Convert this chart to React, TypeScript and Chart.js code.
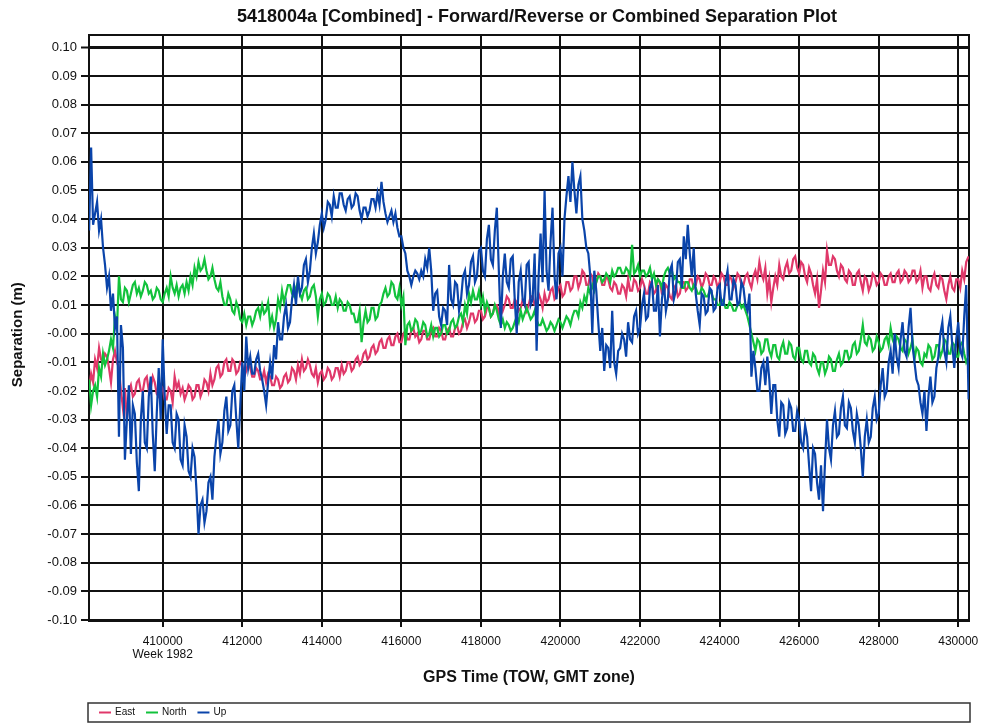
import { useEffect, useRef } from 'react';
import { Chart, registerables } from 'chart.js';

Chart.register(...registerables);

const TITLE = '5418004a [Combined] - Forward/Reverse or Combined Separation Plot';
const X_TITLE = 'GPS Time (TOW, GMT zone)';
const Y_TITLE = 'Separation (m)';
const WEEK_LABEL = 'Week 1982';
const WEEK_TICK = 410000;
const SERIES_NAMES = ['East', 'North', 'Up'];
const SERIES_COLORS = ['#e0386a', '#12c23c', '#0a44aa'];

const X_MIN = 408147;
const X_MAX = 430270;
const Y_MIN = -0.1;
const Y_MAX = 0.1043;
const X_TICKS = [410000, 412000, 414000, 416000, 418000, 420000, 422000, 424000, 426000, 428000, 430000];
const Y_TICKS = [
  -0.1, -0.09, -0.08, -0.07, -0.06, -0.05, -0.04, -0.03, -0.02, -0.01, 0,
  0.01, 0.02, 0.03, 0.04, 0.05, 0.06, 0.07, 0.08, 0.09, 0.1,
];

// GPS time of week (s)
const TIMES = [
  408150,
  408200, 408250, 408300, 408350, 408400, 408450, 408500, 408550, 408600, 408650, 408700, 408750, 408800, 408850, 408900, 408950, 409000, 409050, 409100, 409150,
  409200, 409250, 409300, 409350, 409400, 409450, 409500, 409550, 409600, 409650, 409700, 409750, 409800, 409850, 409900, 409950, 410000, 410050, 410100, 410150,
  410200, 410250, 410300, 410350, 410400, 410450, 410500, 410550, 410600, 410650, 410700, 410750, 410800, 410850, 410900, 410950, 411000, 411050, 411100, 411150,
  411200, 411250, 411300, 411350, 411400, 411450, 411500, 411550, 411600, 411650, 411700, 411750, 411800, 411850, 411900, 411950, 412000, 412050, 412100, 412150,
  412200, 412250, 412300, 412350, 412400, 412450, 412500, 412550, 412600, 412650, 412700, 412750, 412800, 412850, 412900, 412950, 413000, 413050, 413100, 413150,
  413200, 413250, 413300, 413350, 413400, 413450, 413500, 413550, 413600, 413650, 413700, 413750, 413800, 413850, 413900, 413950, 414000, 414050, 414100, 414150,
  414200, 414250, 414300, 414350, 414400, 414450, 414500, 414550, 414600, 414650, 414700, 414750, 414800, 414850, 414900, 414950, 415000, 415050, 415100, 415150,
  415200, 415250, 415300, 415350, 415400, 415450, 415500, 415550, 415600, 415650, 415700, 415750, 415800, 415850, 415900, 415950, 416000, 416050, 416100, 416150,
  416200, 416250, 416300, 416350, 416400, 416450, 416500, 416550, 416600, 416650, 416700, 416750, 416800, 416850, 416900, 416950, 417000, 417050, 417100, 417150,
  417200, 417250, 417300, 417350, 417400, 417450, 417500, 417550, 417600, 417650, 417700, 417750, 417800, 417850, 417900, 417950, 418000, 418050, 418100, 418150,
  418200, 418250, 418300, 418350, 418400, 418450, 418500, 418550, 418600, 418650, 418700, 418750, 418800, 418850, 418900, 418950, 419000, 419050, 419100, 419150,
  419200, 419250, 419300, 419350, 419400, 419450, 419500, 419550, 419600, 419650, 419700, 419750, 419800, 419850, 419900, 419950, 420000, 420050, 420100, 420150,
  420200, 420250, 420300, 420350, 420400, 420450, 420500, 420550, 420600, 420650, 420700, 420750, 420800, 420850, 420900, 420950, 421000, 421050, 421100, 421150,
  421200, 421250, 421300, 421350, 421400, 421450, 421500, 421550, 421600, 421650, 421700, 421750, 421800, 421850, 421900, 421950, 422000, 422050, 422100, 422150,
  422200, 422250, 422300, 422350, 422400, 422450, 422500, 422550, 422600, 422650, 422700, 422750, 422800, 422850, 422900, 422950, 423000, 423050, 423100, 423150,
  423200, 423250, 423300, 423350, 423400, 423450, 423500, 423550, 423600, 423650, 423700, 423750, 423800, 423850, 423900, 423950, 424000, 424050, 424100, 424150,
  424200, 424250, 424300, 424350, 424400, 424450, 424500, 424550, 424600, 424650, 424700, 424750, 424800, 424850, 424900, 424950, 425000, 425050, 425100, 425150,
  425200, 425250, 425300, 425350, 425400, 425450, 425500, 425550, 425600, 425650, 425700, 425750, 425800, 425850, 425900, 425950, 426000, 426050, 426100, 426150,
  426200, 426250, 426300, 426350, 426400, 426450, 426500, 426550, 426600, 426650, 426700, 426750, 426800, 426850, 426900, 426950, 427000, 427050, 427100, 427150,
  427200, 427250, 427300, 427350, 427400, 427450, 427500, 427550, 427600, 427650, 427700, 427750, 427800, 427850, 427900, 427950, 428000, 428050, 428100, 428150,
  428200, 428250, 428300, 428350, 428400, 428450, 428500, 428550, 428600, 428650, 428700, 428750, 428800, 428850, 428900, 428950, 429000, 429050, 429100, 429150,
  429200, 429250, 429300, 429350, 429400, 429450, 429500, 429550, 429600, 429650, 429700, 429750, 429800, 429850, 429900, 429950, 430000, 430050, 430100, 430150,
  430200, 430260,
];

// Separation (m)
const EAST = [
  -0.019,
  -0.014, -0.017, -0.009, -0.012, -0.005, -0.009, -0.010, -0.007, -0.008, -0.012, -0.017, -0.009, -0.006, -0.010, -0.012, -0.020, -0.026, -0.019, -0.030, -0.020,
  -0.018, -0.022, -0.021, -0.017, -0.016, -0.020, -0.020, -0.016, -0.015, -0.020, -0.019, -0.015, -0.017, -0.021, -0.022, -0.018, -0.019, -0.023, -0.023, -0.019,
  -0.020, -0.024, -0.015, -0.019, -0.017, -0.021, -0.019, -0.023, -0.021, -0.018, -0.019, -0.023, -0.022, -0.018, -0.018, -0.022, -0.020, -0.016, -0.017, -0.020,
  -0.014, -0.018, -0.016, -0.012, -0.011, -0.015, -0.014, -0.010, -0.009, -0.013, -0.013, -0.009, -0.010, -0.014, -0.013, -0.010, -0.011, -0.015, -0.013, -0.010,
  -0.012, -0.015, -0.015, -0.012, -0.013, -0.016, -0.016, -0.013, -0.017, -0.014, -0.015, -0.018, -0.018, -0.015, -0.016, -0.019, -0.018, -0.015, -0.014, -0.017,
  -0.016, -0.012, -0.013, -0.016, -0.011, -0.014, -0.009, -0.013, -0.012, -0.009, -0.011, -0.014, -0.015, -0.012, -0.017, -0.014, -0.013, -0.016, -0.015, -0.012,
  -0.013, -0.016, -0.015, -0.012, -0.012, -0.015, -0.011, -0.014, -0.013, -0.010, -0.010, -0.013, -0.012, -0.009, -0.008, -0.011, -0.010, -0.007, -0.006, -0.009,
  -0.008, -0.005, -0.004, -0.007, -0.006, -0.003, -0.002, -0.005, -0.005, -0.002, -0.001, -0.004, -0.004, -0.001, 0.000, -0.003, -0.003, 0.000, 0.001, -0.002,
  -0.002, 0.001, 0.002, -0.001, 0.000, -0.003, -0.002, 0.001, 0.001, -0.002, -0.002, 0.001, 0.002, -0.001, -0.001, 0.002, 0.001, -0.002, -0.002, 0.001,
  0.002, -0.001, -0.001, 0.002, 0.003, 0.000, 0.001, 0.004, 0.005, 0.002, 0.004, 0.007, 0.007, 0.004, 0.005, 0.008, 0.008, 0.005, 0.006, 0.009,
  0.009, 0.006, 0.007, 0.010, 0.010, 0.007, 0.011, 0.008, 0.010, 0.013, 0.012, 0.009, 0.009, 0.012, 0.011, 0.008, 0.009, 0.012, 0.011, 0.008,
  0.010, 0.013, 0.013, 0.010, 0.010, 0.014, 0.012, 0.009, 0.014, 0.011, 0.012, 0.015, 0.016, 0.012, 0.013, 0.016, 0.017, 0.013, 0.014, 0.018,
  0.018, 0.015, 0.016, 0.020, 0.020, 0.016, 0.018, 0.022, 0.021, 0.017, 0.017, 0.021, 0.020, 0.016, 0.018, 0.021, 0.020, 0.017, 0.017, 0.020,
  0.019, 0.016, 0.015, 0.018, 0.017, 0.014, 0.014, 0.017, 0.016, 0.013, 0.019, 0.015, 0.015, 0.019, 0.018, 0.015, 0.016, 0.019, 0.017, 0.014,
  0.014, 0.018, 0.017, 0.014, 0.015, 0.019, 0.018, 0.014, 0.014, 0.017, 0.016, 0.013, 0.012, 0.016, 0.017, 0.013, 0.014, 0.018, 0.018, 0.015,
  0.016, 0.019, 0.019, 0.016, 0.017, 0.020, 0.019, 0.016, 0.018, 0.021, 0.020, 0.017, 0.017, 0.020, 0.019, 0.016, 0.018, 0.021, 0.020, 0.017,
  0.017, 0.020, 0.019, 0.016, 0.018, 0.021, 0.020, 0.017, 0.017, 0.020, 0.021, 0.018, 0.016, 0.020, 0.022, 0.019, 0.025, 0.021, 0.019, 0.023,
  0.014, 0.019, 0.011, 0.016, 0.020, 0.017, 0.024, 0.020, 0.019, 0.023, 0.025, 0.021, 0.022, 0.026, 0.027, 0.023, 0.021, 0.025, 0.024, 0.020,
  0.018, 0.023, 0.021, 0.017, 0.014, 0.019, 0.009, 0.015, 0.022, 0.018, 0.029, 0.024, 0.024, 0.027, 0.026, 0.022, 0.020, 0.024, 0.023, 0.019,
  0.018, 0.022, 0.021, 0.017, 0.017, 0.021, 0.022, 0.018, 0.015, 0.020, 0.019, 0.015, 0.017, 0.021, 0.020, 0.017, 0.018, 0.021, 0.020, 0.017,
  0.017, 0.020, 0.021, 0.018, 0.018, 0.021, 0.022, 0.018, 0.019, 0.022, 0.021, 0.018, 0.019, 0.022, 0.022, 0.018, 0.019, 0.022, 0.016, 0.020,
  0.020, 0.016, 0.015, 0.019, 0.021, 0.017, 0.016, 0.020, 0.019, 0.015, 0.012, 0.017, 0.020, 0.016, 0.015, 0.019, 0.019, 0.016, 0.022, 0.019,
  0.025, 0.027,
];

const NORTH = [
  -0.016,
  -0.025, -0.020, -0.018, -0.022, -0.012, -0.015, -0.007, -0.011, -0.009, -0.006, -0.002, -0.005, 0.006, 0.002, 0.020, 0.012, 0.011, 0.016, 0.015, 0.011,
  0.014, 0.017, 0.018, 0.014, 0.016, 0.013, 0.015, 0.018, 0.017, 0.014, 0.015, 0.012, 0.013, 0.016, 0.015, 0.012, 0.011, 0.014, 0.016, 0.013,
  0.020, 0.016, 0.014, 0.017, 0.013, 0.016, 0.017, 0.014, 0.018, 0.015, 0.020, 0.017, 0.023, 0.020, 0.025, 0.022, 0.023, 0.026, 0.022, 0.019,
  0.020, 0.023, 0.019, 0.016, 0.015, 0.018, 0.013, 0.010, 0.010, 0.014, 0.012, 0.008, 0.007, 0.011, 0.009, 0.005, 0.004, 0.007, 0.003, 0.006,
  0.006, 0.003, 0.005, 0.008, 0.009, 0.006, 0.010, 0.007, 0.008, 0.011, 0.003, 0.006, 0.002, 0.005, 0.012, 0.009, 0.015, 0.011, 0.014, 0.017,
  0.017, 0.014, 0.013, 0.016, 0.018, 0.014, 0.012, 0.015, 0.016, 0.012, 0.013, 0.016, 0.017, 0.013, 0.006, 0.012, 0.014, 0.010, 0.011, 0.014,
  0.013, 0.010, 0.010, 0.013, 0.009, 0.012, 0.011, 0.008, 0.008, 0.011, 0.010, 0.007, 0.007, 0.004, 0.004, 0.008, -0.003, 0.004, 0.008, 0.004,
  0.005, 0.009, 0.009, 0.005, 0.006, 0.010, 0.011, 0.014, 0.016, 0.013, 0.014, 0.018, 0.017, 0.013, 0.012, 0.016, 0.010, 0.013, -0.004, 0.003,
  0.004, 0.001, 0.002, 0.005, 0.004, 0.000, 0.001, 0.004, 0.003, -0.001, 0.000, 0.003, -0.001, 0.002, 0.002, -0.001, 0.000, 0.003, 0.003, 0.000,
  0.001, 0.004, 0.005, 0.002, 0.003, 0.006, 0.007, 0.004, 0.010, 0.007, 0.014, 0.011, 0.015, 0.012, 0.012, 0.015, 0.010, 0.013, 0.008, 0.011,
  0.009, 0.006, 0.007, 0.010, 0.008, 0.005, 0.003, 0.005, 0.002, 0.004, 0.003, 0.001, 0.002, 0.004, 0.006, 0.004, 0.008, 0.005, 0.007, 0.009,
  0.007, 0.005, 0.006, 0.008, 0.005, 0.003, 0.003, 0.005, 0.003, 0.001, 0.002, 0.004, 0.003, 0.001, 0.003, 0.005, 0.004, 0.002, 0.004, 0.006,
  0.005, 0.003, 0.006, 0.008, 0.008, 0.006, 0.011, 0.009, 0.013, 0.011, 0.016, 0.014, 0.017, 0.015, 0.018, 0.020, 0.020, 0.018, 0.019, 0.021,
  0.020, 0.018, 0.022, 0.020, 0.021, 0.023, 0.023, 0.021, 0.021, 0.023, 0.022, 0.020, 0.031, 0.021, 0.022, 0.024, 0.020, 0.022, 0.022, 0.020,
  0.021, 0.023, 0.019, 0.021, 0.017, 0.019, 0.018, 0.016, 0.020, 0.022, 0.023, 0.021, 0.022, 0.019, 0.020, 0.018, 0.018, 0.016, 0.016, 0.018,
  0.018, 0.016, 0.015, 0.017, 0.016, 0.014, 0.014, 0.016, 0.015, 0.013, 0.013, 0.015, 0.014, 0.012, 0.012, 0.010, 0.010, 0.012, 0.011, 0.009,
  0.009, 0.011, 0.010, 0.008, 0.008, 0.010, 0.011, 0.009, 0.010, 0.008, 0.006, 0.003, 0.000, -0.003, -0.006, -0.002, -0.003, -0.007, -0.006, -0.002,
  -0.002, -0.006, -0.008, -0.004, -0.004, -0.008, -0.009, -0.005, -0.003, -0.007, -0.007, -0.003, -0.004, -0.008, -0.009, -0.005, -0.005, -0.009, -0.010, -0.006,
  -0.006, -0.010, -0.011, -0.007, -0.008, -0.012, -0.014, -0.010, -0.010, -0.014, -0.012, -0.008, -0.009, -0.013, -0.013, -0.009, -0.007, -0.011, -0.010, -0.006,
  -0.006, -0.009, -0.008, -0.004, -0.003, -0.007, -0.006, -0.002, 0.003, -0.003, -0.004, -0.001, -0.002, -0.006, -0.005, -0.001, -0.003, -0.006, -0.005, -0.002,
  -0.001, -0.004, 0.002, -0.002, -0.004, -0.001, -0.002, -0.005, -0.006, -0.002, -0.003, -0.007, -0.005, -0.002, -0.009, -0.005, -0.006, -0.010, -0.011, -0.007,
  -0.008, -0.004, -0.005, -0.009, -0.008, -0.004, -0.004, -0.008, -0.006, -0.002, -0.003, -0.007, -0.007, -0.003, -0.004, -0.008, -0.008, -0.004, -0.003, -0.007,
  -0.010, -0.008,
];

const UP = [
  0.036,
  0.065, 0.038, 0.042, 0.046, 0.036, 0.040, 0.030, 0.024, 0.016, 0.020, 0.008, 0.014, 0.002, 0.006, -0.036, 0.003, -0.005, -0.044, -0.030, -0.018,
  -0.042, -0.025, -0.028, -0.045, -0.055, -0.030, -0.020, -0.038, -0.040, -0.022, -0.015, -0.035, -0.048, -0.028, -0.012, -0.030, -0.002, -0.022, -0.035, -0.025,
  -0.025, -0.038, -0.040, -0.028, -0.030, -0.044, -0.046, -0.032, -0.036, -0.048, -0.050, -0.040, -0.043, -0.055, -0.070, -0.060, -0.058, -0.066, -0.062, -0.052,
  -0.050, -0.058, -0.043, -0.036, -0.030, -0.042, -0.038, -0.027, -0.022, -0.034, -0.032, -0.020, -0.018, -0.030, -0.040, -0.025, -0.010, -0.020, -0.001, -0.012,
  -0.008, -0.014, -0.014, -0.009, -0.007, -0.013, -0.016, -0.020, -0.025, -0.017, -0.010, -0.016, -0.004, -0.009, 0.004, -0.002, -0.002, 0.006, 0.010, 0.002,
  0.004, 0.012, 0.017, 0.010, 0.020, 0.014, 0.016, 0.024, 0.026, 0.018, 0.022, 0.030, 0.035, 0.028, 0.032, 0.038, 0.042, 0.037, 0.040, 0.046,
  0.045, 0.041, 0.048, 0.044, 0.044, 0.049, 0.049, 0.045, 0.043, 0.047, 0.048, 0.044, 0.045, 0.049, 0.048, 0.043, 0.040, 0.044, 0.044, 0.041,
  0.043, 0.047, 0.047, 0.044, 0.049, 0.045, 0.053, 0.046, 0.042, 0.039, 0.041, 0.043, 0.039, 0.042, 0.037, 0.034, 0.034, 0.030, 0.028, 0.022,
  0.020, 0.017, 0.020, 0.022, 0.021, 0.019, 0.022, 0.020, 0.026, 0.023, 0.030, 0.022, 0.008, 0.014, 0.015, 0.006, 0.003, 0.009, 0.008, 0.003,
  0.024, 0.012, 0.010, 0.018, 0.017, 0.008, 0.012, 0.020, 0.022, 0.014, 0.017, 0.025, 0.027, 0.018, 0.020, 0.029, 0.030, 0.022, 0.020, 0.033,
  0.038, 0.026, 0.024, 0.036, 0.044, 0.022, 0.002, 0.020, 0.028, 0.018, 0.016, 0.026, 0.027, 0.012, 0.000, 0.018, 0.022, 0.012, 0.010, 0.024,
  0.025, 0.010, 0.012, 0.028, -0.006, 0.020, 0.035, 0.018, 0.050, 0.022, 0.015, 0.032, 0.044, 0.020, 0.012, 0.028, 0.030, 0.020, 0.040, 0.048,
  0.055, 0.046, 0.060, 0.050, 0.042, 0.052, 0.055, 0.040, 0.036, 0.030, 0.028, 0.020, 0.000, 0.022, 0.015, 0.004, -0.006, 0.002, -0.013, -0.004,
  -0.005, -0.012, 0.008, -0.010, -0.014, -0.006, -0.005, 0.000, -0.002, -0.008, 0.004, -0.002, -0.003, 0.006, 0.008, 0.000, 0.002, 0.010, 0.014, 0.005,
  0.006, 0.016, 0.018, 0.008, 0.008, 0.017, -0.001, 0.012, 0.018, 0.008, 0.012, 0.022, 0.024, 0.012, 0.015, 0.025, 0.026, 0.016, 0.034, 0.026,
  0.038, 0.028, 0.020, 0.030, 0.014, 0.008, 0.003, 0.014, 0.013, 0.007, 0.008, 0.016, 0.015, 0.008, 0.009, 0.016, 0.017, 0.010, 0.010, 0.018,
  0.022, 0.012, 0.012, 0.019, 0.017, 0.010, 0.011, 0.018, 0.016, 0.010, 0.008, 0.014, -0.015, -0.006, -0.012, -0.020, -0.020, -0.012, -0.010, -0.018,
  -0.008, -0.016, -0.028, -0.018, -0.018, -0.030, -0.036, -0.024, -0.025, -0.035, -0.033, -0.024, -0.026, -0.034, -0.034, -0.027, -0.030, -0.038, -0.040, -0.032,
  -0.036, -0.046, -0.055, -0.040, -0.042, -0.052, -0.058, -0.046, -0.062, -0.045, -0.030, -0.040, -0.044, -0.032, -0.027, -0.036, -0.035, -0.026, -0.022, -0.032,
  -0.033, -0.024, -0.026, -0.034, -0.038, -0.028, -0.032, -0.040, -0.050, -0.036, -0.030, -0.038, -0.036, -0.026, -0.022, -0.030, -0.028, -0.018, -0.012, -0.022,
  -0.020, -0.010, -0.006, -0.014, 0.000, -0.008, -0.012, -0.002, 0.004, -0.006, -0.008, 0.002, 0.009, -0.004, -0.010, -0.016, -0.018, -0.024, -0.028, -0.020,
  -0.034, -0.022, -0.015, -0.024, -0.022, -0.012, -0.008, 0.000, 0.004, -0.006, -0.010, 0.002, 0.006, -0.004, -0.012, -0.002, 0.004, -0.006, -0.008, 0.006,
  0.017, -0.023,
];

const SERIES_VALUES = [EAST, NORTH, UP];

const FONT = "Arial, 'Liberation Sans', Helvetica, sans-serif";

const textPlugin = {
  id: 'plotTexts',
  afterDraw(chart: any) {
    const { ctx, chartArea, scales } = chart;
    ctx.save();
    ctx.fillStyle = '#111';
    ctx.textAlign = 'center';
    ctx.textBaseline = 'middle';
    ctx.font = `bold 18px ${FONT}`;
    ctx.fillText(TITLE, (chartArea.left + chartArea.right) / 2 + 8, 17);
    const yTop = scales.y.getPixelForValue(Y_TICKS[Y_TICKS.length - 1]);
    const yBottom = scales.y.getPixelForValue(Y_TICKS[0]);
    ctx.translate(18, (yTop + yBottom) / 2 + 1);
    ctx.rotate(-Math.PI / 2);
    ctx.font = `bold 15px ${FONT}`;
    ctx.fillText(Y_TITLE, 0, 0);
    ctx.restore();
  },
};

const framePlugin = {
  id: 'frame',
  beforeDatasetsDraw(chart: any) {
    const { ctx, chartArea } = chart;
    ctx.save();
    ctx.strokeStyle = '#111';
    ctx.lineWidth = 2;
    ctx.beginPath();
    ctx.moveTo(chartArea.left, chartArea.top);
    ctx.lineTo(chartArea.right, chartArea.top);
    ctx.lineTo(chartArea.right, chartArea.bottom);
    ctx.stroke();
    ctx.restore();
  },
};

const legendPlugin = {
  id: 'boxLegend',
  afterDraw(chart: any) {
    const { ctx, chartArea } = chart;
    ctx.save();
    const top = 703;
    const h = 19;
    ctx.strokeStyle = '#333';
    ctx.lineWidth = 1.5;
    ctx.strokeRect(chartArea.left - 1, top, chartArea.right - chartArea.left + 2, h);
    ctx.font = `10px ${FONT}`;
    ctx.textBaseline = 'middle';
    ctx.textAlign = 'left';
    let x = chartArea.left + 10;
    const cy = top + h / 2;
    SERIES_NAMES.forEach((name, i) => {
      ctx.strokeStyle = SERIES_COLORS[i];
      ctx.lineWidth = 2;
      ctx.beginPath();
      ctx.moveTo(x, cy);
      ctx.lineTo(x + 12, cy);
      ctx.stroke();
      ctx.fillStyle = '#111';
      ctx.fillText(name, x + 16, cy);
      x += 16 + ctx.measureText(name).width + 11;
    });
    ctx.restore();
  },
};

export default function App() {
  const ref = useRef<HTMLCanvasElement>(null);

  useEffect(() => {
    const canvas = ref.current;
    if (!canvas) return;
    const mk = (vals: number[]) => TIMES.map((t, i) => ({ x: t, y: vals[i] }));
    const datasets = [2, 1, 0].map((idx, order) => ({
      label: SERIES_NAMES[idx],
      data: mk(SERIES_VALUES[idx]),
      borderColor: SERIES_COLORS[idx],
      backgroundColor: SERIES_COLORS[idx],
      borderWidth: 2.2,
      pointRadius: 0,
      tension: 0,
      fill: false,
      order,
    }));

    const chart = new Chart(canvas, {
      type: 'line',
      data: { datasets },
      options: {
        responsive: false,
        animation: false,
        devicePixelRatio: 1,
        layout: { padding: { left: 0, right: 13, top: 35, bottom: 36 } },
        plugins: {
          legend: { display: false },
          tooltip: { enabled: false },
          title: { display: false },
        },
        scales: {
          x: {
            type: 'linear',
            min: X_MIN,
            max: X_MAX,
            afterFit: (s: any) => {
              s.height = 70;
              s.paddingLeft = 0;
              s.paddingRight = 0;
            },
            afterBuildTicks: (s: any) => {
              s.ticks = X_TICKS.map((v) => ({ value: v }));
            },
            ticks: {
              autoSkip: false,
              maxRotation: 0,
              padding: 8,
              color: '#111',
              font: { family: FONT, size: 12, lineHeight: 1.1 },
              callback: (v: any) => (Number(v) === WEEK_TICK ? [String(v), WEEK_LABEL] : String(v)),
            },
            grid: {
              color: '#111',
              lineWidth: 2,
              tickLength: 7,
              tickColor: '#111',
              tickWidth: 2,
            },
            border: { display: true, color: '#111', width: 3 },
            title: {
              display: true,
              text: X_TITLE,
              color: '#111',
              font: { family: FONT, size: 16, weight: 'bold' },
              padding: { top: 0, bottom: 3 },
            },
          },
          y: {
            type: 'linear',
            min: Y_MIN,
            max: Y_MAX,
            afterFit: (s: any) => {
              s.width = 89;
              s.paddingTop = 0;
              s.paddingBottom = 0;
            },
            afterBuildTicks: (s: any) => {
              s.ticks = Y_TICKS.map((v) => ({ value: v }));
            },
            ticks: {
              autoSkip: false,
              padding: 4,
              color: '#111',
              font: { family: FONT, size: 13 },
              callback: (v: any) => {
                const n = Number(v);
                return Math.abs(n) < 1e-9 ? '-0.00' : n.toFixed(2);
              },
            },
            grid: {
              color: '#111',
              lineWidth: (c: any) => (c.tick && Math.abs(c.tick.value - 0.1) < 1e-9 ? 3 : 2),
              tickLength: 8,
              tickColor: '#111',
              tickWidth: 2,
            },
            border: { display: true, color: '#111', width: 2 },
            title: { display: false },
          },
        },
      },
      plugins: [framePlugin, textPlugin, legendPlugin],
    } as any);

    return () => chart.destroy();
  }, []);

  return (
    <div style={{ position: 'fixed', left: 0, top: 0, width: 982, height: 726, background: '#fff' }}>
      <canvas ref={ref} width={982} height={726} style={{ width: 982, height: 726, display: 'block' }} />
    </div>
  );
}
